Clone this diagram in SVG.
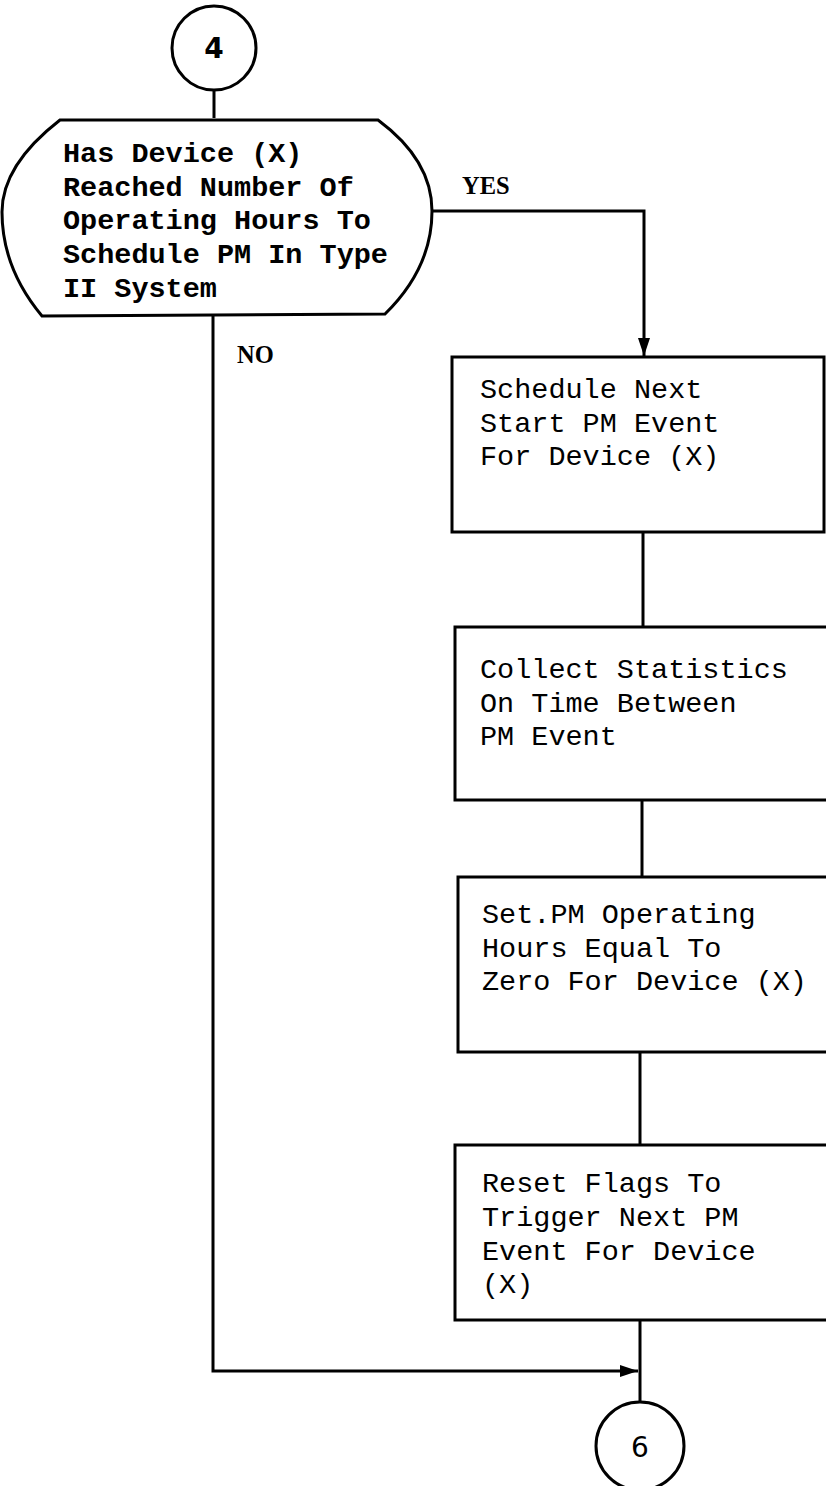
<svg xmlns="http://www.w3.org/2000/svg" width="826" height="1486" viewBox="0 0 826 1486">
<style>
.s{fill:none;stroke:#000;stroke-width:3}
.t{font-family:"Liberation Mono",monospace;font-size:28.5px;fill:#000}
.b{font-weight:bold}
.l{font-family:"Liberation Serif",serif;font-weight:bold;font-size:24.5px;fill:#000}
.c{font-family:"DejaVu Sans",sans-serif;font-size:28px;fill:#000;text-anchor:middle}
</style>
<defs>
<marker id="ahd" markerWidth="18" markerHeight="12" refX="18" refY="6" orient="auto" markerUnits="userSpaceOnUse" viewBox="0 0 18 12">
<path d="M0,0 L18,6 L0,12 Z" fill="#000"/>
</marker>
</defs>
<rect width="826" height="1486" fill="#fff"/>
<g id="connectors">
<line class="s" x1="214" y1="90" x2="214" y2="118"/>
<polyline class="s" points="432,211 644,211 644,356" marker-end="url(#ahd)"/>
<line class="s" x1="643" y1="532" x2="643" y2="627"/>
<line class="s" x1="642" y1="800" x2="642" y2="877"/>
<line class="s" x1="640" y1="1052" x2="640" y2="1145"/>
<line class="s" x1="640" y1="1320" x2="640" y2="1402"/>
<polyline class="s" points="213,315 213,1371 638,1371" marker-end="url(#ahd)"/>
<text class="l" x="462" y="194">YES</text>
<text class="l" x="237" y="363">NO</text>
</g>
<g id="n4">
<circle class="s" cx="214" cy="48" r="42"/>
<text class="c" x="214" y="58" font-weight="bold">4</text>
</g>
<g id="decision">
<path class="s" d="M60,120 L378,120 Q432,160 432,211 Q432,268 385,314 L42,316 Q2,268 2,212 Q2,165 60,120 Z"/>
<text class="t b" x="63" y="162">Has Device (X)</text>
<text class="t b" x="63" y="196">Reached Number Of</text>
<text class="t b" x="63" y="229">Operating Hours To</text>
<text class="t b" x="63" y="263">Schedule PM In Type</text>
<text class="t b" x="63" y="297">II System</text>
</g>
<g id="box1">
<rect class="s" x="452" y="357" width="372" height="175"/>
<text class="t" x="480" y="398">Schedule Next</text>
<text class="t" x="480" y="432">Start PM Event</text>
<text class="t" x="480" y="465">For Device (X)</text>
</g>
<g id="box2">
<rect class="s" x="455" y="627" width="380" height="173"/>
<text class="t" x="480" y="678">Collect Statistics</text>
<text class="t" x="480" y="712">On Time Between</text>
<text class="t" x="480" y="745">PM Event</text>
</g>
<g id="box3">
<rect class="s" x="458" y="877" width="380" height="175"/>
<text class="t" x="482" y="923">Set.PM Operating</text>
<text class="t" x="482" y="957">Hours Equal To</text>
<text class="t" x="482" y="990">Zero For Device (X)</text>
</g>
<g id="box4">
<rect class="s" x="455" y="1145" width="380" height="175"/>
<text class="t" x="482" y="1192">Reset Flags To</text>
<text class="t" x="482" y="1226">Trigger Next PM</text>
<text class="t" x="482" y="1260">Event For Device</text>
<text class="t" x="482" y="1293">(X)</text>
</g>
<g id="n6">
<circle class="s" cx="640" cy="1446" r="44"/>
<text class="c" x="640" y="1457">6</text>
</g>
</svg>
